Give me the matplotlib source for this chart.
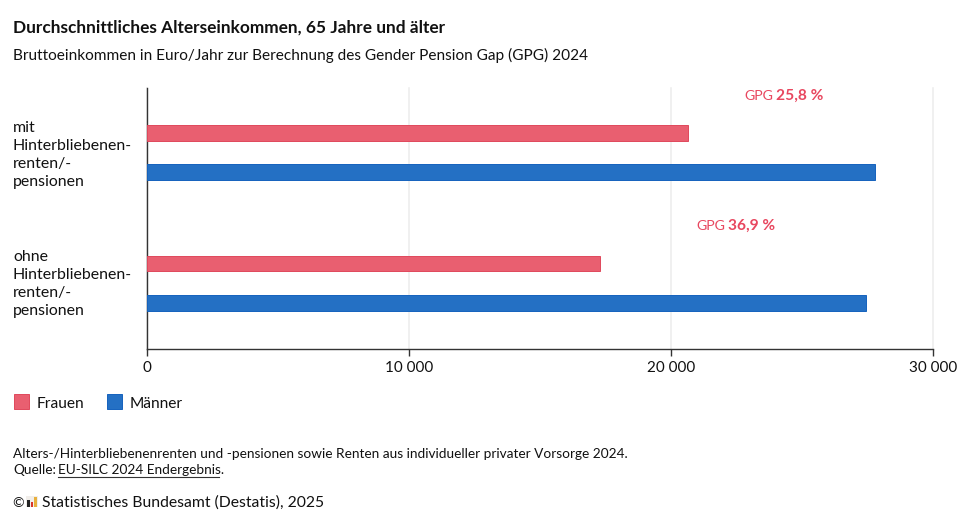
import matplotlib
matplotlib.use('Agg')
import matplotlib.pyplot as plt
from matplotlib.patches import Rectangle

categories = ['mit\nHinterbliebenen-\nrenten/-\npensionen', 'ohne\nHinterbliebenen-\nrenten/-\npensionen']
frauen = [20650, 17300]
maenner = [27800, 27450]
gpg = ['25,8 %', '36,9 %']
ticks = [0, 10000, 20000, 30000]
tick_labels = ['0', '10 000', '20 000', '30 000']

W, H = 967, 519
plt.rcParams['font.family'] = ['Lato', 'DejaVu Sans']
fig = plt.figure(figsize=(W / 100, H / 100), dpi=100)
ax = fig.add_axes([147 / W, 1 - 349 / H, (933 - 147) / W, (349 - 88) / H])
ax.set_xlim(0, 30000)
ax.set_ylim(2, 0)

red = '#e95f70'
blue = '#2470c4'
for i in range(2):
    ax.barh(i + 0.345, frauen[i], height=0.122, color=red, edgecolor='#e0485c', linewidth=0.7, zorder=3)
    ax.barh(i + 0.645, maenner[i], height=0.122, color=blue, edgecolor='#1562bd', linewidth=0.7, zorder=3)

ax.set_xticks(ticks)
ax.set_xticklabels(tick_labels, fontsize=11, color='#111111')
ax.set_yticks([])
ax.tick_params(axis='x', length=5, width=1, color='#333333', pad=4)
ax.grid(axis='x', color='#eeeeee', linewidth=1.2, zorder=0)
for line in ax.get_xgridlines():
    line.set_clip_on(False)
ax.set_axisbelow(True)
for s in ['top', 'right']:
    ax.spines[s].set_visible(False)
for s in ['left', 'bottom']:
    ax.spines[s].set_color('#333333')
    ax.spines[s].set_linewidth(1)

def px(x, y, s, **kw):
    return fig.text(x / W, 1 - y / H, s, va='center', **kw)

px(13, 28, 'Durchschnittliches Alterseinkommen, 65 Jahre und älter', fontsize=12.45, fontweight='bold', color='#111111')
px(13, 55, 'Bruttoeinkommen in Euro/Jahr zur Berechnung des Gender Pension Gap (GPG) 2024', fontsize=11.1, color='#111111')

for y, c in zip([155, 284], categories):
    fig.text(13 / W, 1 - y / H, c, va='center', fontsize=11.4, color='#111111', linespacing=1.35)

for (x1, x2, y), g in zip([(744, 776, 96), (696, 728, 226)], gpg):
    px(x1, y, 'GPG', fontsize=10.2, color='#e8475f')
    px(x2, y, g, fontsize=11.2, fontweight='bold', color='#e8475f')

# legend
for x, col, edge, label in [(14, red, '#e0485c', 'Frauen'), (107, blue, '#1562bd', 'Männer')]:
    fig.add_artist(Rectangle((x / W, 1 - 409 / H), 15 / W, 15 / H, transform=fig.transFigure, facecolor=col, edgecolor=edge, linewidth=0.7))
    px(x + 23, 404, label, fontsize=11.2, color='#111111')

px(13, 454, 'Alters-/Hinterbliebenenrenten und -pensionen sowie Renten aus individueller privater Vorsorge 2024.', fontsize=9.85, color='#111111')
px(13, 470, 'Quelle:', fontsize=9.85, color='#111111')
px(58, 470, 'EU-SILC 2024 Endergebnis.', fontsize=9.85, color='#111111')
fig.add_artist(plt.Line2D([58 / W, 219 / W], [1 - 476.5 / H, 1 - 476.5 / H], color='#333333', linewidth=0.8))
px(12, 503, '©', fontsize=10, color='#111111')
px(42, 503, 'Statistisches Bundesamt (Destatis), 2025', fontsize=11.3, color='#111111')

# small logo bars
fig.add_artist(Rectangle((26 / W, 1 - 507 / H), 12 / W, 11 / H, transform=fig.transFigure, facecolor='#f1eeea', edgecolor='none'))
for x, h, col in [(27, 7, '#222222'), (30.5, 5, '#d9352a'), (34, 10, '#e8b03d')]:
    fig.add_artist(Rectangle((x / W, 1 - 507 / H), 2.6 / W, h / H, transform=fig.transFigure, facecolor=col, edgecolor='none'))

fig.savefig('out.png', dpi=100)
